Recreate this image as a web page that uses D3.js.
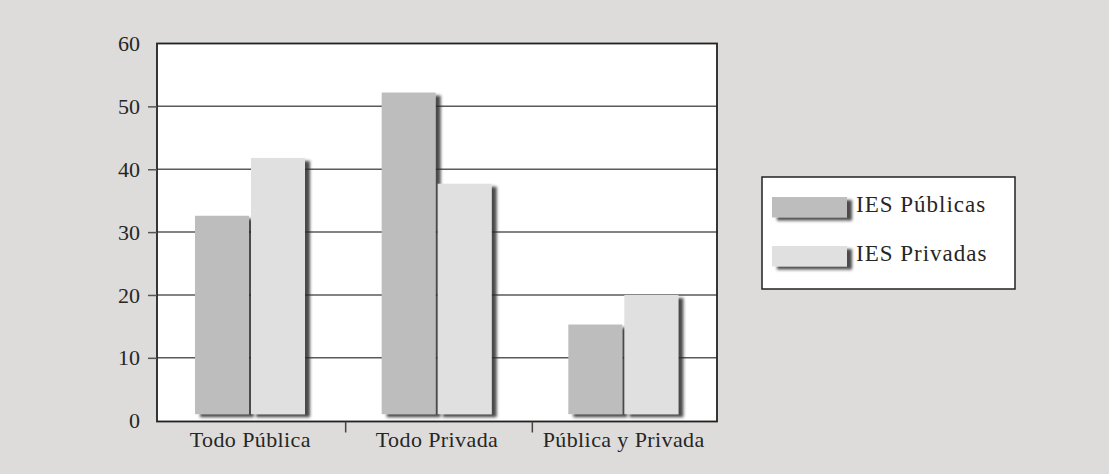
<!DOCTYPE html>
<html>
<head>
<meta charset="utf-8">
<script src="https://cdn.jsdelivr.net/npm/d3@7"></script>
<style>
  html, body { margin: 0; padding: 0; background: #dddcda; }
  svg { display: block; }
</style>
</head>
<body>
<svg id="chart" width="1109" height="474"></svg>
<script>
// Data
const categories = ["Todo Pública", "Todo Privada", "Pública y Privada"];
const seriesNames = ["IES Públicas", "IES Privadas"];
const publicas = [32.6, 52.2, 15.3];
const privadas = [41.8, 37.7, 20.0];
const yTicks = [0, 10, 20, 30, 40, 50, 60];
const seriesColors = ["#bdbdbd", "#e0e0e0"];

const FONT = "'Liberation Serif'";
const TEXT_COLOR = "#262626";
const svg = d3.select("#chart");

// Drop shadow used by bars and legend keys
const defs = svg.append("defs");
const f = defs.append("filter").attr("id", "shadow")
  .attr("x", "-20%").attr("y", "-20%").attr("width", "150%").attr("height", "150%");
f.append("feDropShadow")
  .attr("dx", 5).attr("dy", 3).attr("stdDeviation", 1.4)
  .attr("flood-color", "#2a2a2a").attr("flood-opacity", 0.85);

const plot = { left: 157, right: 717 };
const x = d3.scaleBand().domain(categories).range([plot.left, plot.right]);
const x1 = d3.scaleBand().domain(seriesNames).range([38, 148]).paddingInner(0.036);
const y = d3.scaleLinear().domain([0, 60]).range([420.7, 43.5]);
const barBase = y(0) - 6.5;

// Plot background
svg.append("rect")
  .attr("x", plot.left).attr("y", y(60))
  .attr("width", plot.right - plot.left).attr("height", y(0) - y(60))
  .attr("fill", "#ffffff");

// Horizontal gridlines
svg.append("g").selectAll("line")
  .data(yTicks.filter(d => d > 0 && d < 60))
  .join("line")
  .attr("x1", plot.left).attr("x2", plot.right)
  .attr("y1", d => y(d)).attr("y2", d => y(d))
  .attr("stroke", "#5a5a5a").attr("stroke-width", 1.5);

// Bars
const rows = categories.map((c, i) => ({ cat: c, values: [publicas[i], privadas[i]] }));
const groups = svg.append("g").selectAll("g")
  .data(rows).join("g")
  .attr("transform", d => `translate(${x(d.cat)},0)`);
groups.selectAll("rect")
  .data(d => d.values.map((v, j) => ({ v, s: seriesNames[j], j })))
  .join("rect")
  .attr("x", d => x1(d.s))
  .attr("width", x1.bandwidth())
  .attr("y", d => y(d.v))
  .attr("height", d => barBase - y(d.v))
  .attr("fill", d => seriesColors[d.j])
  .attr("filter", "url(#shadow)");

// Plot frame
svg.append("rect")
  .attr("x", plot.left).attr("y", y(60))
  .attr("width", plot.right - plot.left).attr("height", y(0) - y(60) + 0.8)
  .attr("fill", "none").attr("stroke", "#222").attr("stroke-width", 1.8);

// Y axis
const yAxis = d3.axisLeft(y).tickValues(yTicks).tickSize(9).tickPadding(8).tickFormat(d3.format("d"));
const yg = svg.append("g").attr("transform", `translate(${plot.left},0)`).call(yAxis);
yg.select(".domain").remove();
yg.selectAll(".tick line").attr("stroke", "#555").attr("stroke-width", 1.5);
yg.selectAll(".tick text")
  .style("font-family", FONT).style("font-size", "22px").attr("fill", TEXT_COLOR);
yg.selectAll(".tick").filter(d => d === 60 || d === 0).select("line").remove();

// X axis
const xAxis = d3.axisBottom(x).tickSize(0).tickPadding(10);
const xg = svg.append("g").attr("transform", `translate(0,${y(0) + 0.8})`).call(xAxis);
xg.select(".domain").remove();
xg.selectAll(".tick text")
  .style("font-family", FONT).style("font-size", "22px").style("letter-spacing", "0.4px")
  .attr("fill", TEXT_COLOR);
// Category separators below the axis
xg.append("g").selectAll("line")
  .data(categories.slice(1))
  .join("line")
  .attr("x1", d => x(d) + 2).attr("x2", d => x(d) + 2)
  .attr("y1", 0).attr("y2", 11)
  .attr("stroke", "#444").attr("stroke-width", 1.5);

// Legend
const legend = svg.append("g").attr("transform", "translate(762,177)");
legend.append("rect")
  .attr("width", 253).attr("height", 112)
  .attr("fill", "#ffffff").attr("stroke", "#222").attr("stroke-width", 1.5);
const items = legend.selectAll("g.item")
  .data(seriesNames).join("g").attr("class", "item")
  .attr("transform", (d, i) => `translate(10,${20 + i * 49})`);
items.append("rect")
  .attr("width", 75).attr("height", 20.5)
  .attr("fill", (d, i) => seriesColors[i])
  .attr("filter", "url(#shadow)");
items.append("text")
  .attr("x", 84).attr("y", 15)
  .style("font-family", FONT).style("font-size", "23px").style("letter-spacing", "1px")
  .attr("fill", TEXT_COLOR)
  .text(d => d);
</script>
</body>
</html>
